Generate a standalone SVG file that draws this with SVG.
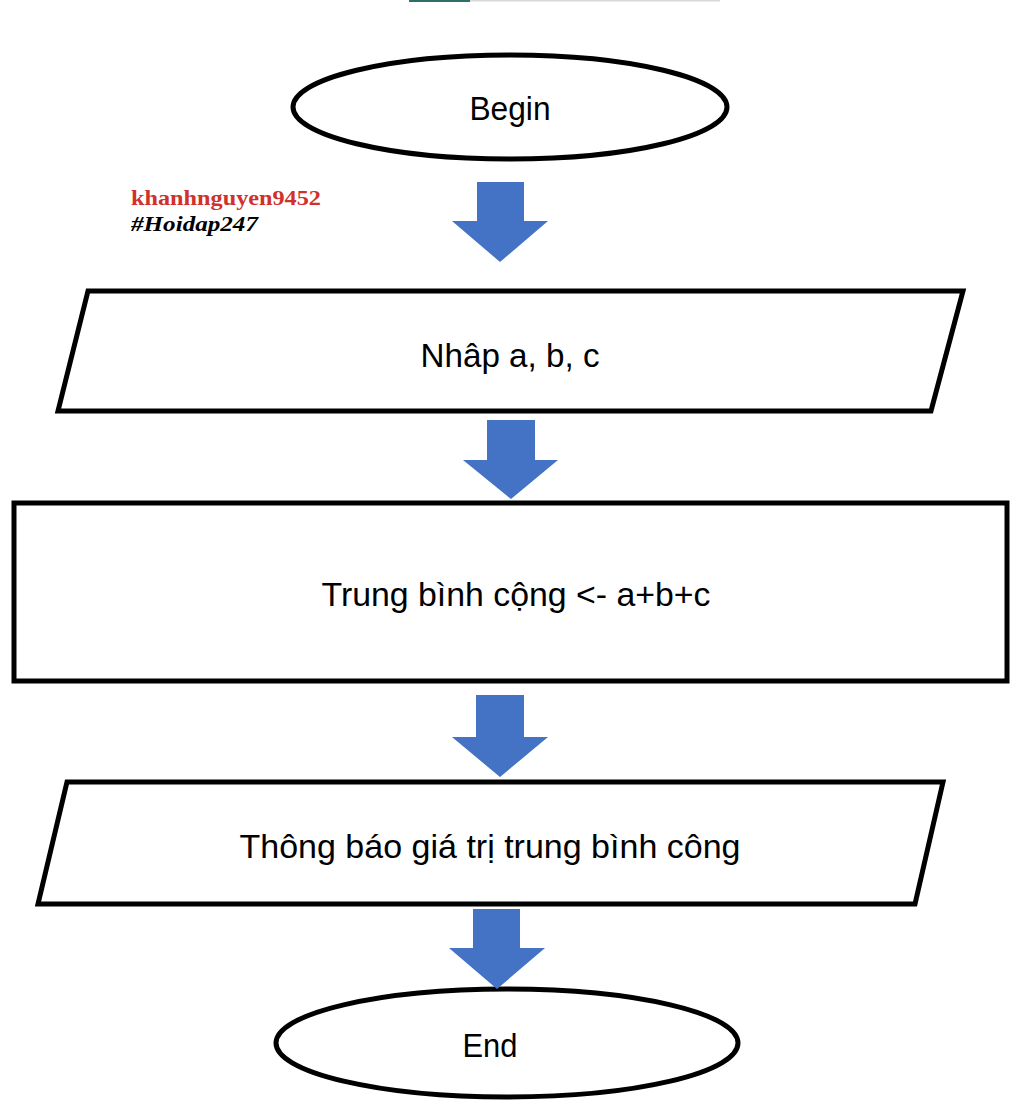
<svg xmlns="http://www.w3.org/2000/svg" width="1024" height="1113" viewBox="0 0 1024 1113">
<style>
.shape{fill:#ffffff;stroke:#000000;stroke-width:5}
.lbl{font-family:"Liberation Sans",Arial,sans-serif;font-size:34px;fill:#000000;text-anchor:middle}
.arrow{fill:#4472C4}
</style>
<rect width="1024" height="1113" fill="#ffffff"/>
<rect x="409" y="0" width="61" height="2" fill="#2f6f6a"/>
<rect x="470" y="0" width="250" height="1.5" fill="#d8d8d8"/>
<g id="watermark">
<text x="131" y="205" font-family="Liberation Serif,serif" font-weight="bold" font-size="22" fill="#d0312d" textLength="190" lengthAdjust="spacingAndGlyphs">khanhnguyen9452</text>
<text x="131" y="231" font-family="Liberation Serif,serif" font-weight="bold" font-style="italic" font-size="22" fill="#000000" textLength="127" lengthAdjust="spacingAndGlyphs">#Hoidap247</text>
</g>
<g id="node-begin">
<ellipse class="shape" cx="510" cy="107" rx="217" ry="52"/>
<text class="lbl" x="510" y="120" textLength="81" lengthAdjust="spacingAndGlyphs">Begin</text>
</g>
<g id="node-input">
<polygon class="shape" points="88,291 963,291 931,411 58,411"/>
<text class="lbl" x="510" y="367" textLength="179" lengthAdjust="spacingAndGlyphs">Nhâp a, b, c</text>
</g>
<g id="node-process">
<rect class="shape" x="14" y="503" width="993" height="178" stroke-width="6"/>
<text class="lbl" x="516" y="606" textLength="389" lengthAdjust="spacingAndGlyphs">Trung bình cộng &lt;- a+b+c</text>
</g>
<g id="node-output">
<polygon class="shape" points="67,782 943,782 915,904 38,904"/>
<text class="lbl" x="490" y="858" textLength="501" lengthAdjust="spacingAndGlyphs">Thông báo giá trị trung bình công</text>
</g>
<g id="node-end">
<ellipse class="shape" cx="507" cy="1043" rx="231" ry="54"/>
<text class="lbl" x="490" y="1057" textLength="55" lengthAdjust="spacingAndGlyphs">End</text>
</g>
<g id="connectors">
<polygon class="arrow" points="477,182 524,182 524,221 548,221 500,262 452,221 477,221"/>
<polygon class="arrow" points="487,420 535,420 535,460 558,460 511,499 463,460 487,460"/>
<polygon class="arrow" points="476,695 524,695 524,737 548,737 500,777 452,737 476,737"/>
<polygon class="arrow" points="473,909 520,909 520,948 545,948 497,989 449,948 473,948"/>
</g>
</svg>
